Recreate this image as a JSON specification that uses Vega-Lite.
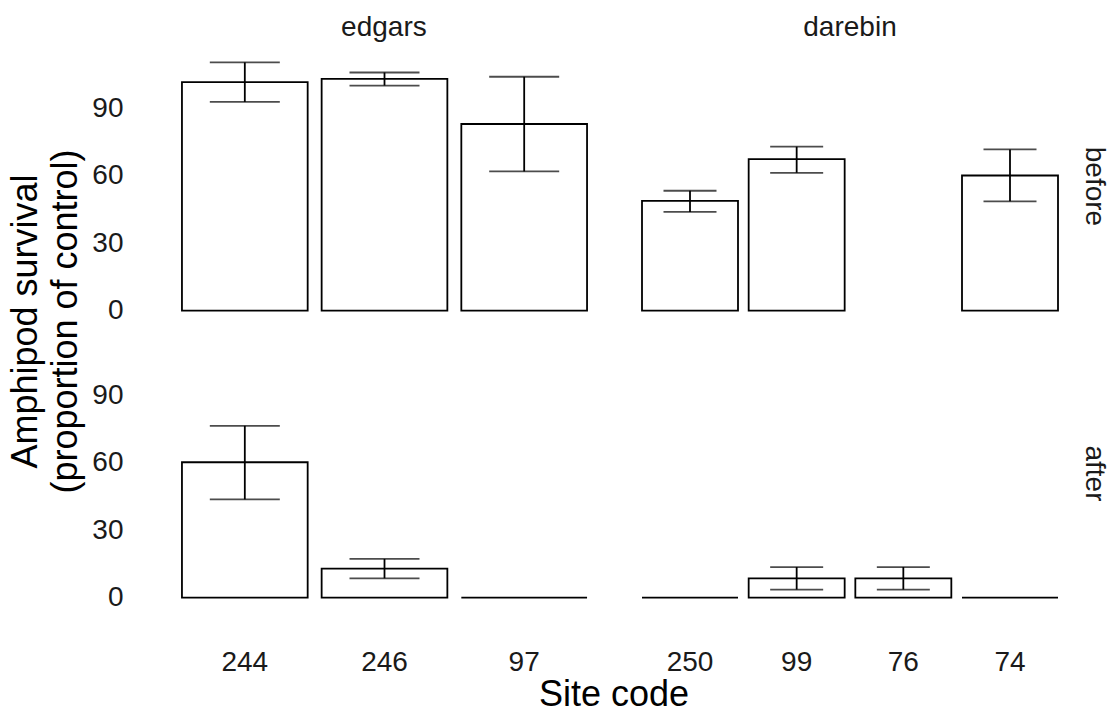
{
  "$schema": "https://vega.github.io/schema/vega-lite/v6.json",
  "background": "white",
  "padding": {"left": 7, "top": 14, "right": 5, "bottom": 2},
  "config": {
    "font": "Liberation Sans",
    "view": {"stroke": null},
    "axis": {"domain": false, "ticks": false, "grid": false, "labelFontSize": 28, "labelColor": "#1a1a1a", "labelPadding": 38, "title": null},
    "title": {"fontWeight": "normal", "color": "#000000"}
  },
  "data": {
    "values": [
      {"stream": "edgars", "time": "before", "site": "244", "mean": 101.6, "lower": 92.8, "upper": 110.4},
      {"stream": "edgars", "time": "before", "site": "246", "mean": 103.1, "lower": 100.1, "upper": 105.9},
      {"stream": "edgars", "time": "before", "site": "97", "mean": 83.0, "lower": 61.9, "upper": 104.0},
      {"stream": "darebin", "time": "before", "site": "250", "mean": 48.8, "lower": 43.9, "upper": 53.3},
      {"stream": "darebin", "time": "before", "site": "99", "mean": 67.4, "lower": 61.3, "upper": 72.9},
      {"stream": "darebin", "time": "before", "site": "74", "mean": 60.1, "lower": 48.6, "upper": 71.7},
      {"stream": "edgars", "time": "after", "site": "244", "mean": 60.2, "lower": 43.7, "upper": 76.4},
      {"stream": "edgars", "time": "after", "site": "246", "mean": 12.9, "lower": 8.6, "upper": 17.2},
      {"stream": "edgars", "time": "after", "site": "97", "mean": 0, "lower": 0, "upper": 0},
      {"stream": "darebin", "time": "after", "site": "250", "mean": 0, "lower": 0, "upper": 0},
      {"stream": "darebin", "time": "after", "site": "99", "mean": 8.6, "lower": 3.6, "upper": 13.6},
      {"stream": "darebin", "time": "after", "site": "76", "mean": 8.6, "lower": 3.6, "upper": 13.6},
      {"stream": "darebin", "time": "after", "site": "74", "mean": 0, "lower": 0, "upper": 0}
    ]
  },
  "title": {"text": ["Amphipod survival", "(proportion of control)"], "orient": "left", "anchor": "middle", "fontSize": 36, "lineHeight": 40, "offset": 7, "dx": 42},
  "vconcat": [
    {
      "title": {"text": "Site code", "orient": "bottom", "anchor": "middle", "fontSize": 36, "offset": 2, "dx": 14},
      "spacing": 18,
      "resolve": {"scale": {"x": "independent"}},
      "hconcat": [
        {
          "title": {"text": "edgars", "anchor": "middle", "fontSize": 28, "color": "#1a1a1a", "offset": 8, "dx": 34},
          "transform": [{"filter": "datum.stream === 'edgars'"}],
          "spacing": {"row": 14},
          "facet": {"row": {"field": "time", "type": "nominal", "sort": ["before", "after"], "header": {"labels": false, "title": null}}},
          "spec": {
            "width": 447,
            "height": 273,
            "encoding": {
              "x": {"field": "site", "type": "nominal", "sort": ["244", "246", "97", "250", "99", "76", "74"], "scale": {"paddingInner": 0.1, "paddingOuter": 0.15}, "axis": {"labelAngle": 0}}
            },
            "layer": [
              {
                "mark": {"type": "bar", "fill": "white", "stroke": "black", "strokeWidth": 1.8},
                "encoding": {"y": {"field": "mean", "type": "quantitative", "scale": {"domain": [-5.5, 115.9], "nice": false, "zero": false}, "axis": {"values": [0, 30, 60, 90]}}}
              },
              {
                "transform": [{"filter": "datum.upper > datum.lower"}],
                "mark": {"type": "rule", "stroke": "black", "strokeWidth": 1.8},
                "encoding": {"y": {"field": "lower", "type": "quantitative"}, "y2": {"field": "upper"}}
              },
              {
                "transform": [{"filter": "datum.upper > datum.lower"}],
                "mark": {"type": "tick", "color": "black", "size": 70, "thickness": 1.8},
                "encoding": {"y": {"field": "lower", "type": "quantitative"}}
              },
              {
                "transform": [{"filter": "datum.upper > datum.lower"}],
                "mark": {"type": "tick", "color": "black", "size": 70, "thickness": 1.8},
                "encoding": {"y": {"field": "upper", "type": "quantitative"}}
              }
            ]
          }
        },
        {
          "title": {"text": "darebin", "anchor": "middle", "fontSize": 28, "color": "#1a1a1a", "offset": 8, "dx": -17},
          "transform": [{"filter": "datum.stream === 'darebin'"}],
          "spacing": {"row": 14},
          "facet": {"row": {"field": "time", "type": "nominal", "sort": ["before", "after"], "header": {"title": null, "labelOrient": "right", "labelAngle": 90, "labelFontSize": 28, "labelColor": "#1a1a1a", "labelPadding": 6}}},
          "spec": {
            "width": 448,
            "height": 273,
            "encoding": {
              "x": {"field": "site", "type": "nominal", "sort": ["244", "246", "97", "250", "99", "76", "74"], "scale": {"paddingInner": 0.1, "paddingOuter": 0.15}, "axis": {"labelAngle": 0}}
            },
            "layer": [
              {
                "mark": {"type": "bar", "fill": "white", "stroke": "black", "strokeWidth": 1.8},
                "encoding": {"y": {"field": "mean", "type": "quantitative", "scale": {"domain": [-5.5, 115.9], "nice": false, "zero": false}, "axis": null}}
              },
              {
                "transform": [{"filter": "datum.upper > datum.lower"}],
                "mark": {"type": "rule", "stroke": "black", "strokeWidth": 1.8},
                "encoding": {"y": {"field": "lower", "type": "quantitative"}, "y2": {"field": "upper"}}
              },
              {
                "transform": [{"filter": "datum.upper > datum.lower"}],
                "mark": {"type": "tick", "color": "black", "size": 53, "thickness": 1.8},
                "encoding": {"y": {"field": "lower", "type": "quantitative"}}
              },
              {
                "transform": [{"filter": "datum.upper > datum.lower"}],
                "mark": {"type": "tick", "color": "black", "size": 53, "thickness": 1.8},
                "encoding": {"y": {"field": "upper", "type": "quantitative"}}
              }
            ]
          }
        }
      ]
    }
  ]
}
